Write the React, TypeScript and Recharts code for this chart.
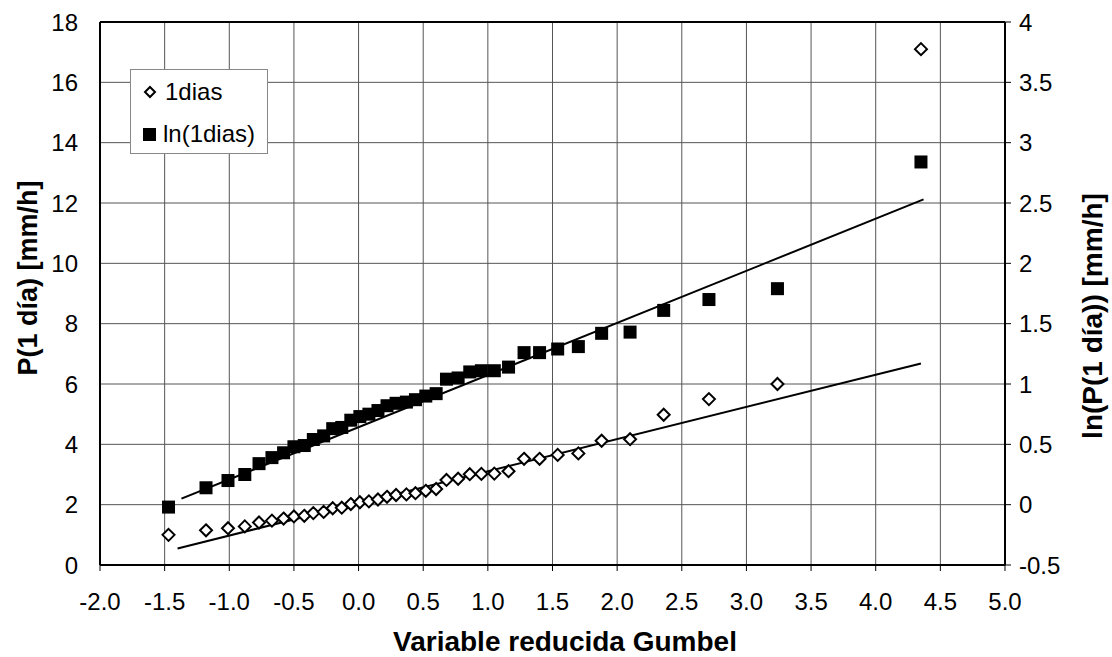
import {
  ScatterChart,
  Scatter,
  XAxis,
  YAxis,
  CartesianGrid,
  ReferenceLine,
} from "recharts";

const FONT = '"Liberation Sans", Arial, Helvetica, sans-serif';

// variable reducida de Gumbel (eje x), una por dato ordenado
const gumbelX = [
  -1.47, -1.18, -1.01, -0.88, -0.77, -0.67, -0.58, -0.5, -0.42, -0.35,
  -0.27, -0.2, -0.13, -0.06, 0.01, 0.08, 0.15, 0.22, 0.29, 0.37,
  0.44, 0.52, 0.6, 0.68, 0.77, 0.86, 0.95, 1.05, 1.16, 1.28,
  1.4, 1.54, 1.7, 1.88, 2.1, 2.36, 2.71, 3.24, 4.35,
];

// P(1 día) [mm/h] - eje izquierdo
const p1Dia = [
  1.0, 1.15, 1.22, 1.28, 1.41, 1.47, 1.54, 1.61, 1.63, 1.72,
  1.76, 1.88, 1.9, 2.02, 2.08, 2.11, 2.17, 2.26, 2.32, 2.34,
  2.38, 2.46, 2.52, 2.82, 2.86, 3.01, 3.02, 3.03, 3.11, 3.52,
  3.52, 3.65, 3.7, 4.12, 4.17, 4.98, 5.5, 6.0, 17.1,
];

// ln(P(1 día)) - eje derecho
const lnP1Dia = [
  -0.02, 0.14, 0.2, 0.25, 0.34, 0.39, 0.43, 0.48, 0.49, 0.54,
  0.57, 0.63, 0.64, 0.7, 0.73, 0.75, 0.78, 0.82, 0.84, 0.85,
  0.87, 0.9, 0.92, 1.04, 1.05, 1.1, 1.11, 1.11, 1.14, 1.26,
  1.26, 1.29, 1.31, 1.42, 1.43, 1.61, 1.7, 1.79, 2.84,
];

// rectas de ajuste (extremos)
const fitX = [-1.4, 4.35];
const fitP = [0.55, 6.68];
const fitLnX = [-1.37, 4.37];
const fitLn = [0.05, 2.53];

const xTicks = [-2, -1.5, -1, -0.5, 0, 0.5, 1, 1.5, 2, 2.5, 3, 3.5, 4, 4.5, 5];
const leftTicks = [0, 2, 4, 6, 8, 10, 12, 14, 16, 18];
const rightTicks = [-0.5, 0, 0.5, 1, 1.5, 2, 2.5, 3, 3.5, 4];

const SERIES_P = "1dias";
const SERIES_LN = "ln(1dias)";

const pData = gumbelX.map((x, i) => ({ x, y: p1Dia[i] }));
const lnData = gumbelX.map((x, i) => ({ x, y: lnP1Dia[i] }));
const fitPData = fitX.map((x, i) => ({ x, y: fitP[i] }));
const fitLnData = fitLnX.map((x, i) => ({ x, y: fitLn[i] }));

const tickStyle = { fill: "#000", fontSize: 24, fontFamily: FONT };

// eslint-disable-next-line @typescript-eslint/no-explicit-any
function Diamond(props: any) {
  const { cx, cy } = props;
  if (cx == null || cy == null) return <g />;
  const r = 6;
  return (
    <path
      d={`M${cx},${cy - r} L${cx + r},${cy} L${cx},${cy + r} L${cx - r},${cy} Z`}
      fill="#fff"
      stroke="#000"
      strokeWidth={2}
    />
  );
}

// eslint-disable-next-line @typescript-eslint/no-explicit-any
function Square(props: any) {
  const { cx, cy } = props;
  if (cx == null || cy == null) return <g />;
  const s = 13;
  return <rect x={cx - s / 2} y={cy - s / 2} width={s} height={s} fill="#000" />;
}

function NoDot() {
  return <g />;
}

function VTitle({ tx, ty, title, size }: { tx: number; ty: number; title: string; size: number }) {
  return (
    <text
      x={tx}
      y={ty}
      transform={`rotate(-90 ${tx} ${ty})`}
      textAnchor="middle"
      dominantBaseline="central"
      fontFamily={FONT}
      fontSize={size}
      fontWeight="bold"
      fill="#000"
    >
      {title}
    </text>
  );
}

function HTitle({ tx, ty, title }: { tx: number; ty: number; title: string }) {
  return (
    <text
      x={tx}
      y={ty}
      textAnchor="middle"
      fontFamily={FONT}
      fontSize={28}
      fontWeight="bold"
      fill="#000"
    >
      {title}
    </text>
  );
}

// leyenda dibujada encima del gráfico (la Legend de recharts reserva espacio abajo)
function LegendBox() {
  const row = { display: "flex", alignItems: "center", height: 42 };
  return (
    <div
      style={{
        position: "absolute",
        left: 130,
        top: 69,
        width: 138,
        height: 85,
        boxSizing: "border-box",
        border: "1px solid #888",
        background: "#fff",
        fontFamily: FONT,
        fontSize: 24,
        color: "#000",
        padding: "1px 0 0 10px",
      }}
    >
      <div style={row}>
        <svg width={18} height={18} style={{ marginRight: 6 }}>
          <path d="M9,4 L14,9 L9,14 L4,9 Z" fill="#fff" stroke="#000" strokeWidth={2} />
        </svg>
        <span>{SERIES_P}</span>
      </div>
      <div style={row}>
        <svg width={18} height={18} style={{ marginRight: 4 }}>
          <rect x={2} y={3} width={13} height={13} fill="#000" />
        </svg>
        <span>{SERIES_LN}</span>
      </div>
    </div>
  );
}

export default function App() {
  return (
    <div style={{ position: "absolute", left: 0, top: 0, width: 1112, height: 657, background: "#fff" }}>
      <ScatterChart
        width={1112}
        height={657}
        margin={{ top: 22, right: 0, bottom: 0, left: 0 }}
      >
        <CartesianGrid yAxisId="left" stroke="#555" strokeWidth={1} />
        <XAxis
          type="number"
          dataKey="x"
          domain={[-2, 5]}
          ticks={xTicks}
          interval={0}
          allowDataOverflow
          tickFormatter={(v: number) => v.toFixed(1)}
          tick={tickStyle}
          tickSize={6}
          tickMargin={22}
          tickLine={{ stroke: "#000" }}
          axisLine={{ stroke: "#000", strokeWidth: 2 }}
          height={92}
          label={<HTitle tx={565} ty={651} title="Variable reducida Gumbel" />}
        />
        <YAxis
          yAxisId="left"
          type="number"
          dataKey="y"
          domain={[0, 18]}
          ticks={leftTicks}
          interval={0}
          allowDataOverflow
          tick={tickStyle}
          tickSize={0}
          tickMargin={22}
          tickLine={false}
          axisLine={{ stroke: "#000", strokeWidth: 2 }}
          width={100}
          label={<VTitle tx={28} ty={278} size={27} title="P(1 día) [mm/h]" />}
        />
        <YAxis
          yAxisId="right"
          orientation="right"
          type="number"
          dataKey="y"
          domain={[-0.5, 4]}
          ticks={rightTicks}
          interval={0}
          allowDataOverflow
          tick={tickStyle}
          tickSize={6}
          tickMargin={8}
          tickLine={{ stroke: "#000" }}
          axisLine={{ stroke: "#000", strokeWidth: 2 }}
          width={107}
          label={<VTitle tx={1092} ty={316} size={28} title="ln(P(1 día)) [mm/h]" />}
        />
        <ReferenceLine yAxisId="left" y={18} stroke="#000" strokeWidth={2} />
        <Scatter
          name="ajuste 1dias"
          data={fitPData}
          yAxisId="left"
          line={{ stroke: "#000", strokeWidth: 2 }}
          lineType="joint"
          shape={<NoDot />}
          legendType="none"
          isAnimationActive={false}
        />
        <Scatter
          name="ajuste ln(1dias)"
          data={fitLnData}
          yAxisId="right"
          line={{ stroke: "#000", strokeWidth: 2 }}
          lineType="joint"
          shape={<NoDot />}
          legendType="none"
          isAnimationActive={false}
        />
        <Scatter
          name={SERIES_P}
          data={pData}
          yAxisId="left"
          shape={<Diamond />}
          isAnimationActive={false}
        />
        <Scatter
          name={SERIES_LN}
          data={lnData}
          yAxisId="right"
          shape={<Square />}
          isAnimationActive={false}
        />
      </ScatterChart>
      <LegendBox />
    </div>
  );
}
